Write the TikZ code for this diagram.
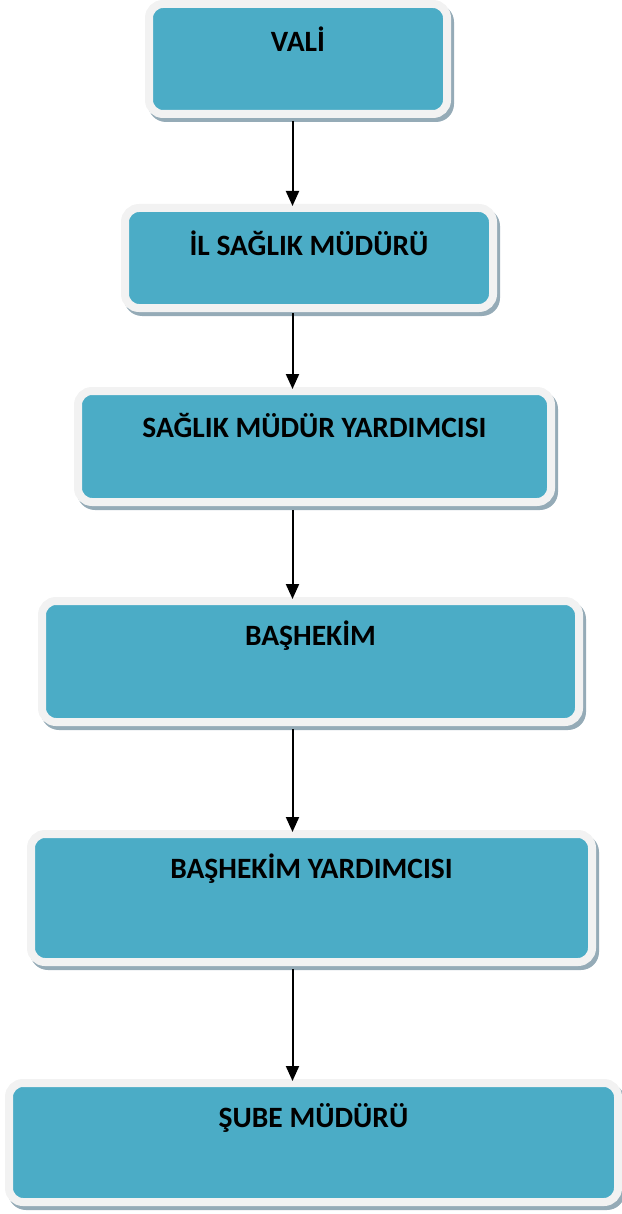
\documentclass[tikz,border=0pt]{standalone}
\usepackage{fontspec}
\setmainfont{Carlito}
\usetikzlibrary{arrows.meta,calc,backgrounds}
\definecolor{teal}{HTML}{4BACC6}
\definecolor{frame}{HTML}{F2F2F2}
\definecolor{shade}{HTML}{95ABB7}
\tikzset{
  box/.style={rectangle, rounded corners=14pt, fill=teal, draw=frame, line width=8pt, inner sep=0pt, outer sep=0pt},
  lbl/.style={font=\fontsize{29.5}{35}\selectfont\bfseries, text=black, inner sep=0pt},
  arr/.style={line width=2pt, -{Triangle[width=13pt,length=15pt]}},
  shadowbox/.style={fill=shade, rounded corners=18pt}
}
\newcommand{\shd}[1]{\fill[shadowbox] ($(#1.north west)+(-1,0)$) rectangle ($(#1.south east)+(7,8)$);}
\begin{document}
\begin{tikzpicture}[x=1pt,y=-1pt]
\useasboundingbox (0,0) rectangle (621,1214);
\coordinate (ax) at (292.5,0);
\node[box, minimum width=298pt, minimum height=110pt] (b1) at (298,59) {};
\node[box, minimum width=368pt, minimum height=100pt] (b2) at (309,258) {};
\node[box, minimum width=473pt, minimum height=111pt] (b3) at (314.5,446.5) {};
\node[box, minimum width=537pt, minimum height=121pt] (b4) at (310.5,661.5) {};
\node[box, minimum width=561pt, minimum height=128pt] (b5) at (311.5,898) {};
\node[box, minimum width=609pt, minimum height=119pt] (b6) at (313.5,1142.5) {};
\begin{scope}[on background layer]
\shd{b1}\shd{b2}\shd{b3}\shd{b4}\shd{b5}\shd{b6}
\end{scope}
\node[lbl] (t1) at ($(b1.north)+(0,35)$) {VALİ};
\node[lbl] (t2) at ($(b2.north)+(0,35)$) {İL SAĞLIK MÜDÜRÜ};
\node[lbl] (t3) at ($(b3.north)+(0,35)$) {SAĞLIK MÜDÜR YARDIMCISI};
\node[lbl] (t4) at ($(b4.north)+(0,35)$) {BAŞHEKİM};
\node[lbl] (t5) at ($(b5.north)+(0,35)$) {BAŞHEKİM YARDIMCISI};
\node[lbl] (t6) at ($(b6.north)+(0,35)$) {ŞUBE MÜDÜRÜ};
\draw[arr] ($(b1.south -| ax)+(0,7)$) -- ($(b2.north -| ax)+(0,-2)$);
\draw[arr] ($(b2.south -| ax)+(0,5)$) -- ($(b3.north -| ax)+(0,-2)$);
\draw[arr] ($(b3.south -| ax)+(0,8)$) -- ($(b4.north -| ax)+(0,-2)$);
\draw[arr] ($(b4.south -| ax)+(0,7)$) -- ($(b5.north -| ax)+(0,-2)$);
\draw[arr] ($(b5.south -| ax)+(0,7)$) -- ($(b6.north -| ax)+(0,-2)$);
\end{tikzpicture}
\end{document}
